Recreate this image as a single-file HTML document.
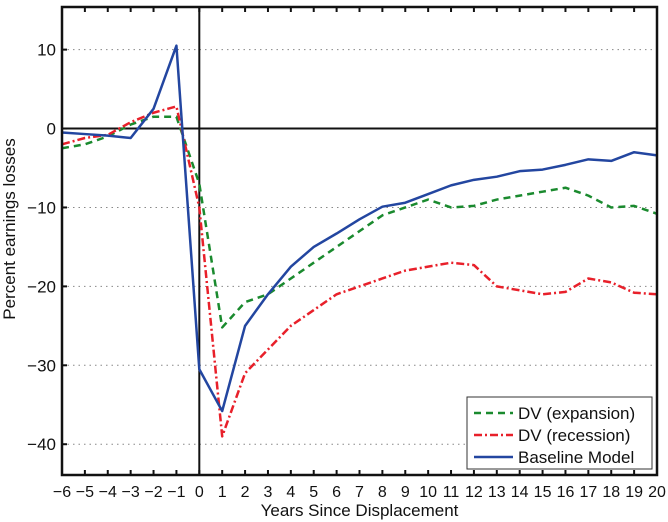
<!DOCTYPE html>
<html><head><meta charset="utf-8"><style>body{margin:0;background:#fff}svg{display:block;font-family:"Liberation Sans",sans-serif}</style></head>
<body>
<svg id="c" width="668" height="522"></svg>
<script>
const years=[-6,-5,-4,-3,-2,-1,0,1,2,3,4,5,6,7,8,9,10,11,12,13,14,15,16,17,18,19,20];
const expansion=[-2.5,-2,-1,0.5,1.5,1.5,-7,-25.2,-22,-21,-19,-17,-15,-13,-11,-10,-9,-10,-9.8,-9,-8.5,-8,-7.5,-8.5,-10,-9.8,-10.8];
const recession=[-2,-1.2,-0.8,0.8,2,2.8,-10,-39,-31,-28,-25,-23,-21,-20,-19,-18,-17.5,-17,-17.3,-20,-20.5,-21,-20.7,-19,-19.5,-20.8,-21];
const baseline=[-0.5,-0.7,-0.9,-1.2,2.5,10.5,-30.5,-35.8,-25,-21,-17.5,-15,-13.3,-11.5,-9.9,-9.4,-8.3,-7.2,-6.5,-6.1,-5.4,-5.2,-4.6,-3.9,-4.1,-3.0,-3.4];
const yTicks=[10,0,-10,-20,-30,-40];
const L=62,R=657,T=7,B=475,X0=-6,X1=20,Y0=-43.9,Y1=15.4;
const sx=v=>L+(v-X0)/(X1-X0)*(R-L), sy=v=>B-(v-Y0)/(Y1-Y0)*(B-T);
const svg=document.getElementById('c'),NS='http://www.w3.org/2000/svg';
function mk(t,a,p){const e=document.createElementNS(NS,t);for(const k in a)e.setAttribute(k,a[k]);(p||svg).appendChild(e);return e;}
for(const v of yTicks){
 if(v!==0){const g=mk('line',{x1:L,x2:R,y1:sy(v),y2:sy(v),stroke:'#888','stroke-dasharray':'1.5 4','stroke-width':1});
 
 }
 const tl=mk('line',{x1:L,x2:L+5,y1:sy(v),y2:sy(v),stroke:'#111','stroke-width':2});
 
 
 const t=mk('text',{x:L-6,y:sy(v)+6,'text-anchor':'end','font-size':17,fill:'#111'});t.textContent=v<0?'\u2212'+(-v):v;
 
 
}
for(const v of years){
 const tl=mk('line',{x1:sx(v),x2:sx(v),y1:T,y2:T+5,stroke:'#111','stroke-width':2});
 
 
 const tb=mk('line',{x1:sx(v),x2:sx(v),y1:B,y2:B-5,stroke:'#111','stroke-width':2});
 
 
 const t=mk('text',{x:sx(v),y:B+22,'text-anchor':'middle','font-size':16,fill:'#111'});t.textContent=v<0?'\u2212'+(-v):v;
 
 
}
const z=mk('line',{x1:L,x2:R,y1:sy(0),y2:sy(0),stroke:'#111','stroke-width':2});


const vz=mk('line',{x1:sx(0),x2:sx(0),y1:T,y2:B,stroke:'#111','stroke-width':2});


function series(d,col,dash,name){const p=mk('polyline',{points:years.map((x,i)=>sx(x)+','+sy(d[i])).join(' '),fill:'none',stroke:col,'stroke-width':2.5,'stroke-dasharray':dash,'stroke-linejoin':'round'});
 
 }
series(expansion,'#1a8a2e','7 5','series-expansion');
series(recession,'#e8202a','8 3 2 3','series-recession');
series(baseline,'#2346a0','none','series-baseline');
const f=mk('rect',{x:L,y:T,width:R-L,height:B-T,fill:'none',stroke:'#111','stroke-width':2.5});


const lg=mk('g',{});


mk('rect',{x:467,y:397,width:185,height:72,fill:'#fff',stroke:'#333','stroke-width':1},lg);
const items=[['DV (expansion)','#1a8a2e','7 5'],['DV (recession)','#e8202a','8 3 2 3'],['Baseline Model','#2346a0','none']];
items.forEach((it,i)=>{const y=413+i*22;
 const l=mk('line',{x1:474,x2:513,y1:y,y2:y,stroke:it[1],'stroke-width':2.5,'stroke-dasharray':it[2]},lg);
 
 
 const t=mk('text',{x:518,y:y+6,'font-size':17,fill:'#111'},lg);t.textContent=it[0];
 
 
});
const xt=mk('text',{x:(L+R)/2,y:516,'text-anchor':'middle','font-size':17,fill:'#111'});xt.textContent='Years Since Displacement';


const yt=mk('text',{x:0,y:0,'text-anchor':'middle','font-size':17,fill:'#111',transform:'translate(15,'+((T+B)/2-12)+') rotate(-90)'});yt.textContent='Percent earnings losses';


</script>
</body></html>
